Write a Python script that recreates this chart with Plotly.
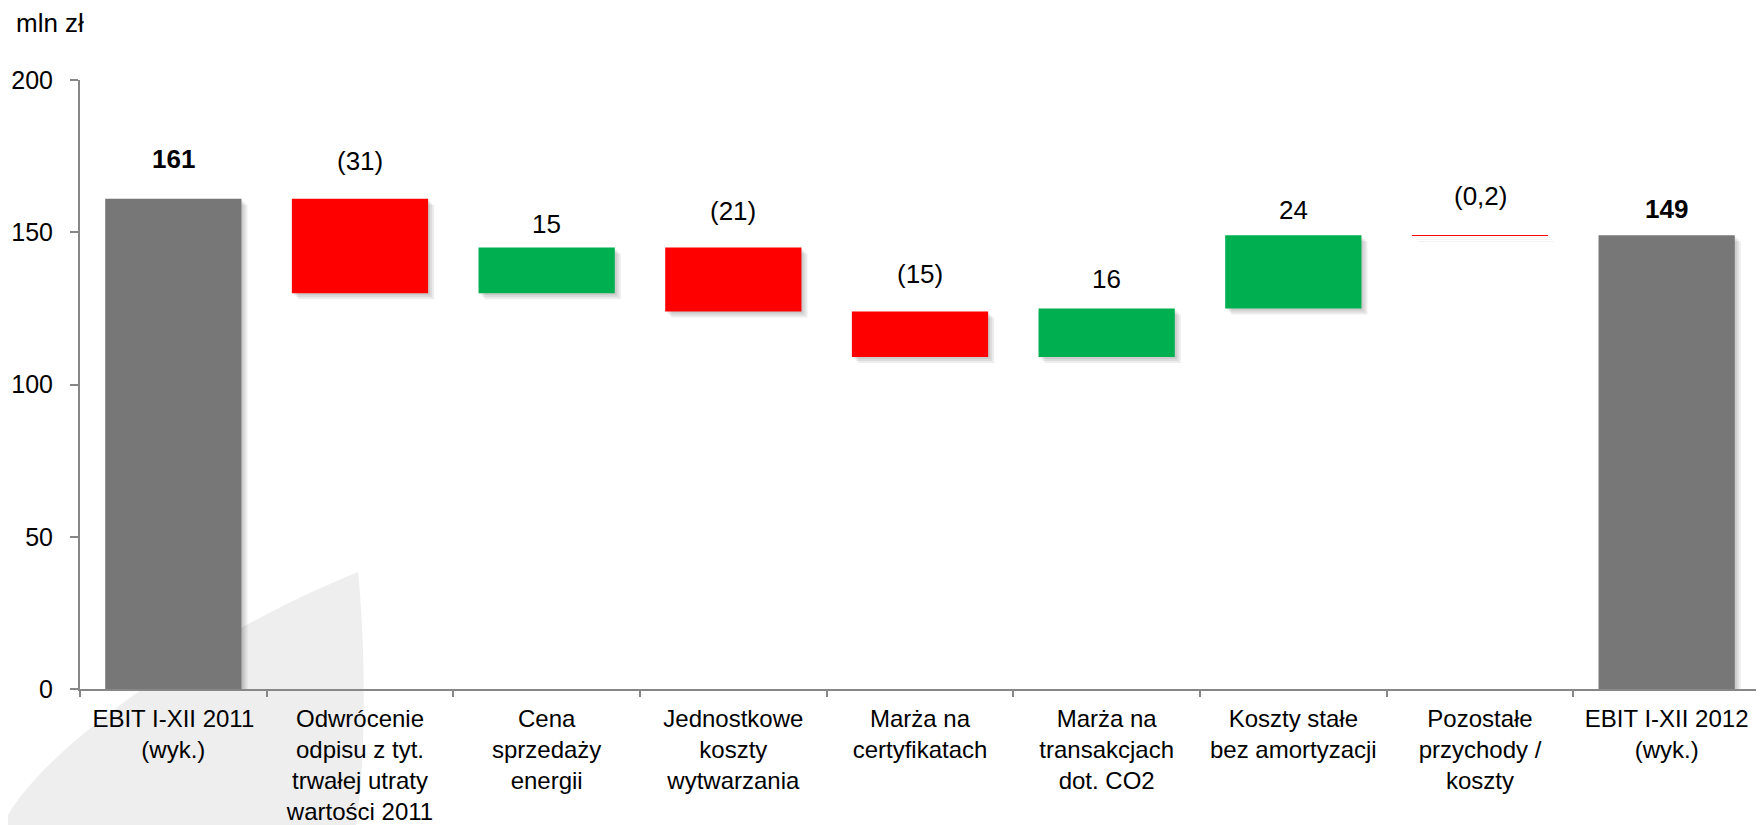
import plotly.graph_objects as go

# ── data ──────────────────────────────────────────────────────────────────────
categories = [
    "EBIT I-XII 2011<br>(wyk.)",
    "Odwrócenie<br>odpisu z tyt.<br>trwałej utraty<br>wartości 2011",
    "Cena<br>sprzedaży<br>energii",
    "Jednostkowe<br>koszty<br>wytwarzania",
    "Marża na<br>certyfikatach",
    "Marża na<br>transakcjach<br>dot. CO2",
    "Koszty stałe<br>bez amortyzacji",
    "Pozostałe<br>przychody /<br>koszty",
    "EBIT I-XII 2012<br>(wyk.)",
]
values = [161, -31, 15, -21, -15, 16, 24, -0.2, 149]
kinds = ["total", "delta", "delta", "delta", "delta", "delta", "delta", "delta", "total"]
labels = ["161", "(31)", "15", "(21)", "(15)", "16", "24", "(0,2)", "149"]

# ── style ─────────────────────────────────────────────────────────────────────
FONT = "Liberation Sans, Arial, sans-serif"
C_TOTAL, C_UP, C_DOWN = "#777777", "#00B050", "#FF0000"
AXIS_COL = "#878787"
BAR_W = 0.73
LABEL_GAP = [40, 38, 23, 36, 37, 29, 25, 39, 26]   # px between bar top and label centre

# page offset (body margin) and plot area on screen
OFF = 8
W, H = 1764, 825
PX0, PX1, PY0, PY1 = 80, 1760, 80, 689
L, T = PX0 - OFF, PY0 - OFF
R, B = W - L - (PX1 - PX0), H - T - (PY1 - PY0)
PX_X = (PX1 - PX0) / len(categories)   # px per category
PX_Y = (PY1 - PY0) / 200               # px per unit

# waterfall bases
bases, running = [], 0
for v, k in zip(values, kinds):
    if k == "total":
        bases.append(0)
        running = v
    else:
        bases.append(running)
        running += v
colors = [C_TOTAL if k == "total" else (C_UP if v >= 0 else C_DOWN) for v, k in zip(values, kinds)]

fig = go.Figure()

# soft drop shadows
for s in (6, 4, 2):
    fig.add_trace(go.Bar(
        x=categories, y=values, base=[b - s / PX_Y for b in bases],
        width=BAR_W, offset=-BAR_W / 2 + s / PX_X,
        marker=dict(color="rgba(0,0,0,0.07)", line=dict(width=0)),
        hoverinfo="skip", showlegend=False,
    ))

fig.add_trace(go.Bar(
    x=categories, y=values, base=bases, width=BAR_W, offset=-BAR_W / 2,
    marker=dict(color=colors, line=dict(width=0)),
    hoverinfo="skip", showlegend=False,
))

# value labels
for i, (c, v, b, k) in enumerate(zip(categories, values, bases, kinds)):
    top = max(b, b + v)
    txt = f"<b>{labels[i]}</b>" if k == "total" else labels[i]
    fig.add_annotation(x=c, y=top, text=txt, showarrow=False,
                       yanchor="middle", yshift=LABEL_GAP[i],
                       font=dict(family=FONT, size=26, color="#000000"))


def _px(x, y):
    """screen pixel -> paper coords"""
    return (x - PX0) / (PX1 - PX0), (PY1 - y) / (PY1 - PY0)


mx, my = _px(14, 23)
fig.add_annotation(x=mx, y=my, xref="paper", yref="paper", xanchor="left", yanchor="middle",
                   text="mln zł", showarrow=False,
                   font=dict(family=FONT, size=26, color="#000000"))


# background watermark swoosh
def _p(x, y):
    a, b = _px(x, y)
    return f"{a:.4f},{b:.4f}"


swoosh = (f"M {_p(358, 572)} C {_p(366, 650)} {_p(366, 760)} {_p(356, 825)} "
          f"L {_p(3, 825)} C {_p(30, 760)} {_p(190, 640)} {_p(358, 572)} Z")
fig.add_shape(type="path", path=swoosh, xref="paper", yref="paper",
              fillcolor="#eeeeee", line=dict(width=0), layer="below")

fig.update_layout(
    width=W, height=H,
    barmode="overlay",
    margin=dict(l=L, r=R, t=T, b=B),
    paper_bgcolor="white", plot_bgcolor="rgba(0,0,0,0)",
    font=dict(family=FONT, size=26, color="#000000"),
    xaxis=dict(
        showgrid=False, showline=True, linecolor=AXIS_COL, linewidth=2,
        ticks="outside", tickson="boundaries", ticklen=6, tickcolor=AXIS_COL, tickwidth=2,
        tickfont=dict(family=FONT, size=24, color="#000000"), ticklabelstandoff=7,
        tickangle=0, automargin=False,
        range=[-0.5, len(categories) - 0.5], fixedrange=True,
    ),
    yaxis=dict(
        range=[0, 200], dtick=50, showgrid=False, zeroline=False,
        showline=True, linecolor=AXIS_COL, linewidth=2,
        ticks="outside", ticklen=8, tickcolor=AXIS_COL, tickwidth=2,
        tickfont=dict(family=FONT, size=25, color="#000000"), ticklabelstandoff=12,
        automargin=False,
    ),
)

fig.write_html("out.html")
